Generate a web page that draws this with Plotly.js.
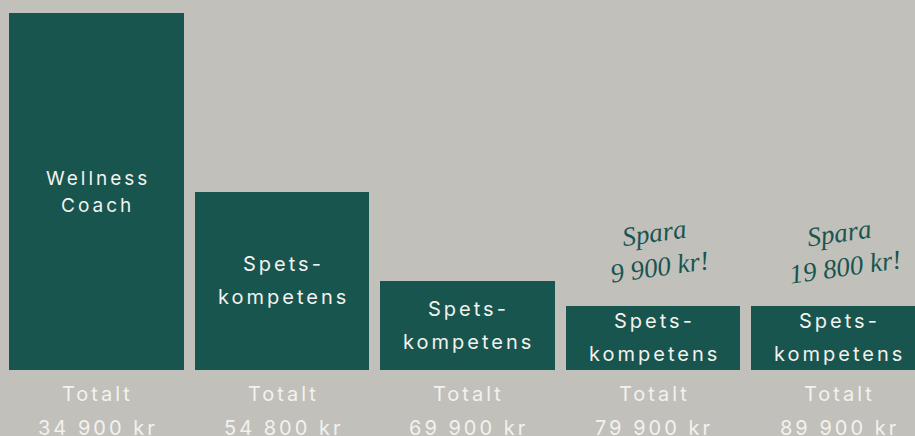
<!DOCTYPE html>
<html>
<head>
<meta charset="utf-8">
<script src="https://cdn.plot.ly/plotly-3.0.1.min.js"></script>
<style>
  html, body { margin: 0; padding: 0; background: #c2c0bb; overflow: hidden; }
  #chart { width: 915px; height: 436px; }
  text.annotation-text[style*="Inter"] { letter-spacing: 3px; }
</style>
</head>
<body>
<div id="chart"></div>
<script>
// ---- data ----
const categories = ['Wellness Coach', 'Spetskompetens A', 'Spetskompetens B', 'Spetskompetens C', 'Spetskompetens D'];
const values = [100, 50, 25, 18, 18];
const labelLine1 = ['Wellness', 'Spets-', 'Spets-', 'Spets-', 'Spets-'];
const labelLine2 = ['Coach', 'kompetens', 'kompetens', 'kompetens', 'kompetens'];
const totalLabel = ['Totalt', 'Totalt', 'Totalt', 'Totalt', 'Totalt'];
const totals = ['34 900 kr', '54 800 kr', '69 900 kr', '79 900 kr', '89 900 kr'];
const savingsLine1 = ['', '', '', 'Spara', 'Spara'];
const savingsLine2 = ['', '', '', '9 900 kr!', '19 800 kr!'];

// ---- style ----
const teal = '#18554f';
const bg = '#c2c0bb';
const light = '#f3f2ee';
const sans = 'Inter, sans-serif';
const script = '"Liberation Serif", serif';

const xs = categories.map((c, i) => i);

const trace = {
  type: 'bar',
  x: xs,
  y: values,
  width: 0.943,
  marker: { color: teal, line: { width: 0 } },
  hoverinfo: 'skip'
};

const annotations = [];
xs.forEach((x, i) => {
  const gap = i === 0 ? 13.5 : 16.5;
  const fs = i === 0 ? 19 : 20;
  annotations.push({ x: x, y: values[i] / 2, xref: 'x', yref: 'y', yanchor: 'middle', text: labelLine1[i], showarrow: false,
    yshift: gap, xshift: 1, font: { family: sans, size: fs, color: light } });
  annotations.push({ x: x, y: values[i] / 2, xref: 'x', yref: 'y', yanchor: 'middle', text: labelLine2[i], showarrow: false,
    yshift: -gap, xshift: 1, font: { family: sans, size: fs, color: light } });
  annotations.push({ x: x, y: 0, xref: 'x', yref: 'paper', yanchor: 'middle', text: totalLabel[i], showarrow: false,
    yshift: -24, xshift: 1, font: { family: sans, size: 20, color: light } });
  annotations.push({ x: x, y: 0, xref: 'x', yref: 'paper', yanchor: 'middle', text: totals[i], showarrow: false,
    yshift: -58, xshift: 1, font: { family: sans, size: 20, color: light } });
  if (savingsLine1[i]) {
    annotations.push({ x: x, y: values[i], xref: 'x', yref: 'y', yanchor: 'middle', text: savingsLine1[i], showarrow: false,
      yshift: 73, xshift: 1, textangle: -8, font: { family: script, size: 27, color: teal, style: 'italic' } });
    annotations.push({ x: x, y: values[i], xref: 'x', yref: 'y', yanchor: 'middle', text: savingsLine2[i], showarrow: false,
      yshift: 39, xshift: 6, textangle: -8, font: { family: script, size: 27, color: teal, style: 'italic' } });
  }
});

const layout = {
  width: 915,
  height: 436,
  margin: { l: 0, r: 0, t: 0, b: 66, pad: 0 },
  paper_bgcolor: bg,
  plot_bgcolor: bg,
  showlegend: false,
  bargap: 0,
  xaxis: { range: [-0.5202, 4.4124], visible: false, fixedrange: true },
  yaxis: { range: [0, 103.64], visible: false, fixedrange: true },
  annotations: annotations
};

Plotly.newPlot('chart', [trace], layout, { staticPlot: true, displayModeBar: false });
</script>
</body>
</html>
